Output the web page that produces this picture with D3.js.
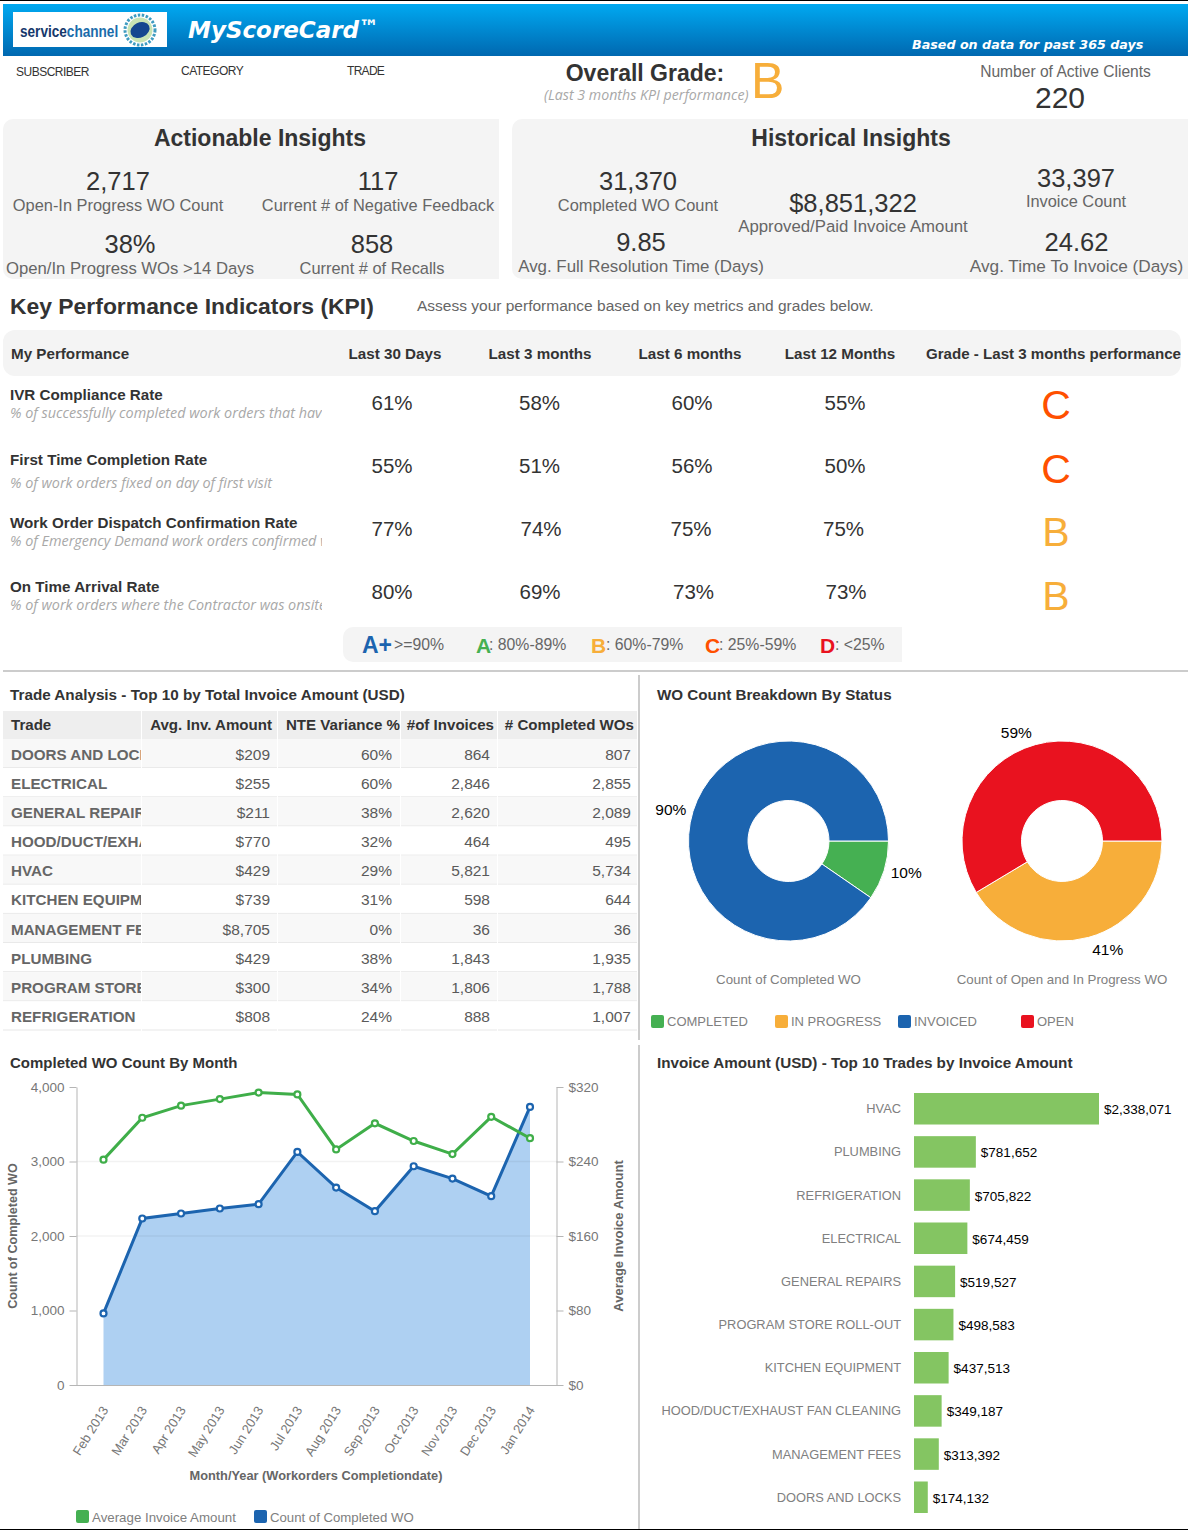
<!DOCTYPE html>
<html lang="en-US">
<head>
<title>MyScoreCard</title>
<meta charset="utf-8">
<script src="https://cdn.jsdelivr.net/npm/d3@7"></script>
<style>
    body { margin: 0; background: #fff; }
    svg { display: block; }
    text { font-family: 'Liberation Sans', Arial, sans-serif; }
</style>
</head>
<body>
<svg id="page" width="1188" height="1530"></svg>
<script>

// KPI table
const kpiNames = ['IVR Compliance Rate', 'First Time Completion Rate', 'Work Order Dispatch Confirmation Rate', 'On Time Arrival Rate'];
const kpiNotes = [
    '% of successfully completed work orders that have',
    '% of work orders fixed on day of first visit',
    '% of Emergency Demand work orders confirmed within',
    '% of work orders where the Contractor was onsite'
];
const kpiPeriods = ['Last 30 Days', 'Last 3 months', 'Last 6 months', 'Last 12 Months'];
const kpiLast30 = [61, 55, 77, 80];
const kpiLast3 = [58, 51, 74, 69];
const kpiLast6 = [60, 56, 75, 73];
const kpiLast12 = [55, 50, 75, 73];
const kpiGrades = ['C', 'C', 'B', 'B'];

// trade table, names cut the way the table column cuts them
const tradeHeaders = ['Trade', 'Avg. Inv. Amount', 'NTE Variance %', '#of Invoices', '# Completed WOs'];
const tradeNames = ['DOORS AND LOCK', 'ELECTRICAL', 'GENERAL REPAIR', 'HOOD/DUCT/EXHA', 'HVAC', 'KITCHEN EQUIPME', 'MANAGEMENT FEE', 'PLUMBING', 'PROGRAM STORE', 'REFRIGERATION'];
const tradeAvgAmount = [209, 255, 211, 770, 429, 739, 8705, 429, 300, 808];
const tradeNteVariance = [60, 60, 38, 32, 29, 31, 0, 38, 34, 24];
const tradeInvoices = [864, 2846, 2620, 464, 5821, 598, 36, 1843, 1806, 888];
const tradeCompleted = [807, 2855, 2089, 495, 5734, 644, 36, 1935, 1788, 1007];

// donuts, percent shares
const completedStatus = ['COMPLETED', 'INVOICED'];
const completedShare = [9.6, 90.4];
const openStatus = ['IN PROGRESS', 'OPEN'];
const openShare = [41.4, 58.6];

// monthly chart
const months = ['Feb 2013', 'Mar 2013', 'Apr 2013', 'May 2013', 'Jun 2013', 'Jul 2013', 'Aug 2013', 'Sep 2013', 'Oct 2013', 'Nov 2013', 'Dec 2013', 'Jan 2014'];
const completedByMonth = [961, 2235, 2302, 2369, 2427, 3128, 2650, 2333, 2936, 2771, 2534, 3732];
const avgInvoiceByMonth = [242, 287, 300, 307, 314, 312, 253, 281, 262, 248, 288, 265];
const countTicks = [0, 1000, 2000, 3000, 4000];
const amountTicks = [0, 80, 160, 240, 320];

// invoice amount bars
const barTrades = ['HVAC', 'PLUMBING', 'REFRIGERATION', 'ELECTRICAL', 'GENERAL REPAIRS', 'PROGRAM STORE ROLL-OUT', 'KITCHEN EQUIPMENT', 'HOOD/DUCT/EXHAUST FAN CLEANING', 'MANAGEMENT FEES', 'DOORS AND LOCKS'];
const barAmounts = [2338071, 781652, 705822, 674459, 519527, 498583, 437513, 349187, 313392, 174132];

const DARK = '#333', GREY = '#666', PALE = '#a8a8a8', SOFT = '#808080';
const BLUE = '#1c64af', GREEN = '#45b052', ORANGE = '#f7ae3a', RED = '#e9121f', CGRADE = '#ff5000';
const gradeColor = { B: ORANGE, C: CGRADE };

let svg = d3.select('#page');
let defs = svg.append('defs');

function label(x, y, str, o) {
    o = o || {};
    let t = (o.parent || svg).append('text')
        .attr('x', x)
        .attr('y', y)
        .attr('font-size', o.size || 14)
        .attr('fill', o.fill || GREY)
        .attr('text-anchor', o.anchor || 'start')
        .text(str);
    if (o.weight) t.attr('font-weight', o.weight);
    if (o.italic) t.attr('font-style', 'italic');
    if (o.family) t.style('font-family', o.family);
    if (o.clip) t.attr('clip-path', `url(#${o.clip})`);
    return t;
}

function clipRect(id, x, y, w, h) {
    defs.append('clipPath').attr('id', id).append('rect')
        .attr('x', x).attr('y', y).attr('width', w).attr('height', h);
}

// rectangle with only the left corners rounded
function leftRounded(x, y, w, h, r, fill) {
    svg.append('path')
        .attr('d', `M${x + r},${y}H${x + w}V${y + h}H${x + r}A${r},${r} 0 0 1 ${x},${y + h - r}V${y + r}A${r},${r} 0 0 1 ${x + r},${y}Z`)
        .attr('fill', fill);
}

function swatch(x, y, size, color) {
    svg.append('rect').attr('x', x).attr('y', y).attr('width', size).attr('height', size)
        .attr('rx', 2).attr('fill', color);
}

// Frame lines
svg.append('rect').attr('width', 1188).attr('height', 1).attr('fill', '#000');
svg.append('rect').attr('y', 1529).attr('width', 1188).attr('height', 1).attr('fill', '#000');

// Banner
let grad = defs.append('linearGradient').attr('id', 'banner').attr('x1', 0).attr('x2', 0).attr('y1', 0).attr('y2', 1);
grad.append('stop').attr('offset', '0%').attr('stop-color', '#00a9f1');
grad.append('stop').attr('offset', '100%').attr('stop-color', '#0068b0');
svg.append('rect').attr('x', 3).attr('y', 4).attr('width', 1185).attr('height', 52).attr('fill', 'url(#banner)');
svg.append('rect').attr('x', 13).attr('y', 12).attr('width', 154).attr('height', 35).attr('fill', '#fff');

// no narrow face installed, so squeeze the wordmark
let logoText = label(0, 0, null, { size: 17, weight: 'bold', fill: '#16386b' })
    .attr('transform', 'translate(20,37) scale(0.8,1)');
logoText.append('tspan').text('service');
logoText.append('tspan').attr('fill', '#1a6cab').text('channel');

let gear = svg.append('g').attr('transform', 'translate(140,30)');
gear.append('circle').attr('r', 15).attr('fill', 'none').attr('stroke', '#3f9cc0').attr('stroke-width', 3).attr('stroke-dasharray', '2.5 1.5');
gear.append('circle').attr('r', 12.5).attr('fill', '#c8e3b4');
gear.append('ellipse').attr('rx', 10).attr('ry', 7.5).attr('transform', 'rotate(-25)').attr('fill', '#15468f');

const VERDANA = "'DejaVu Sans', sans-serif";
label(188, 38, 'MyScoreCard', { size: 23, weight: 'bold', italic: true, fill: '#fff', family: VERDANA });
label(359, 34, '™', { size: 20, weight: 'bold', italic: true, fill: '#fff', family: VERDANA });
label(912, 49, 'Based on data for past 365 days', { size: 12.7, weight: 'bold', italic: true, fill: '#fff', family: VERDANA });

// Filters and overall grade
label(16, 76, 'SUBSCRIBER', { size: 12, fill: DARK }).attr('letter-spacing', -0.5);
label(181, 75, 'CATEGORY', { size: 12, fill: DARK }).attr('letter-spacing', -0.5);
label(347, 75, 'TRADE', { size: 12, fill: DARK }).attr('letter-spacing', -0.7);

const NOTE_FONT = "'Open Sans', sans-serif";
label(645, 81, 'Overall Grade:', { size: 23, weight: 'bold', fill: DARK, anchor: 'middle' });
label(544, 100, '(Last 3 months KPI performance)', { size: 14.2, italic: true, fill: PALE, family: NOTE_FONT });
label(751, 98, 'B', { size: 50, fill: ORANGE });
label(1065.5, 77, 'Number of Active Clients', { size: 15.6, anchor: 'middle' });
label(1060, 108, '220', { size: 30, fill: DARK, anchor: 'middle' });

// Insight panels
leftRounded(3, 119, 496, 160, 10, '#f4f4f4');
leftRounded(512, 119, 676, 160, 10, '#f4f4f4');

function insight(cx, yValue, yText, value, text, textSize) {
    label(cx, yValue, value, { size: 25.5, fill: DARK, anchor: 'middle' });
    label(cx, yText, text, { size: textSize || 16.4, anchor: 'middle' });
}

label(260, 146, 'Actionable Insights', { size: 23, weight: 'bold', fill: DARK, anchor: 'middle' });
insight(118, 190, 211, '2,717', 'Open-In Progress WO Count');
insight(378, 190, 211, '117', 'Current # of Negative Feedback');
insight(130, 253, 274, '38%', 'Open/In Progress WOs >14 Days', 16.7);
insight(372, 253, 274, '858', 'Current # of Recalls');

label(851, 146, 'Historical Insights', { size: 23, weight: 'bold', fill: DARK, anchor: 'middle' });
insight(638, 190, 211, '31,370', 'Completed WO Count');
insight(853, 212, 232, '$8,851,322', 'Approved/Paid Invoice Amount', 16.8);
insight(1076, 187, 207, '33,397', 'Invoice Count');
insight(641, 251, 272, '9.85', 'Avg. Full Resolution Time (Days)', 16.9);
insight(1076.5, 251, 272, '24.62', 'Avg. Time To Invoice (Days)', 17.2);

// KPI section
label(10, 314, 'Key Performance Indicators (KPI)', { size: 22.9, weight: 'bold', fill: DARK });
label(417, 311, 'Assess your performance based on key metrics and grades below.', { size: 15.5 });

svg.append('rect').attr('x', 3).attr('y', 330).attr('width', 1178).attr('height', 46).attr('rx', 12).attr('fill', '#f4f4f4');
label(11, 359, 'My Performance', { size: 15.2, weight: 'bold', fill: DARK });
const periodCenter = [395, 540, 690, 840];
kpiPeriods.forEach((p, i) => label(periodCenter[i], 359, p, { size: 15.2, weight: 'bold', fill: DARK, anchor: 'middle' }));
label(1053.5, 359, 'Grade - Last 3 months performance', { size: 15.1, weight: 'bold', fill: DARK, anchor: 'middle' });

const kpiTitleY = [400, 465, 528, 592];
const kpiNoteY = [418, 488, 546, 610];
const kpiValueY = [409.5, 472.5, 536, 598.5];
const kpiGradeY = [419, 483, 546, 610];
const valueCenter = [392, 540, 692, 845];
// the source cells are not quite centred, small shift per row and column
const valueShift = [[0, -0.5, 0, 0], [0, -0.5, 0, 0], [0, 1, -1, -1.5], [0, 0, 1.5, 1]];
clipRect('kpi-note', 0, 400, 322, 230);
kpiNames.forEach((name, i) => {
    label(10, kpiTitleY[i], name, { size: 15.2, weight: 'bold', fill: DARK });
    label(10, kpiNoteY[i], kpiNotes[i], { size: 14.4, italic: true, fill: PALE, family: NOTE_FONT, clip: 'kpi-note' });
    [kpiLast30, kpiLast3, kpiLast6, kpiLast12].forEach((col, j) => {
        label(valueCenter[j] + valueShift[i][j], kpiValueY[i], col[i] + '%', { size: 20.5, fill: DARK, anchor: 'middle' });
    });
    label(1056, kpiGradeY[i], kpiGrades[i], { size: 41, fill: gradeColor[kpiGrades[i]], anchor: 'middle' });
});

// Grade key
leftRounded(343, 627, 559, 35, 10, '#f4f4f4');
label(362, 653, 'A+', { size: 23, weight: 'bold', fill: BLUE });
label(394, 650, '>=90%', { size: 15.8 });
label(476, 653, 'A', { size: 21, weight: 'bold', fill: GREEN });
label(489, 650, ': 80%-89%', { size: 15.8 });
label(591, 653, 'B', { size: 21, weight: 'bold', fill: ORANGE });
label(606, 650, ': 60%-79%', { size: 15.8 });
label(705, 653, 'C', { size: 21, weight: 'bold', fill: CGRADE });
label(719, 650, ': 25%-59%', { size: 15.8 });
label(820, 653, 'D', { size: 21, weight: 'bold', fill: RED });
label(835, 650, ': <25%', { size: 15.8 });

// Dividers
svg.append('rect').attr('x', 3).attr('y', 670).attr('width', 1185).attr('height', 2).attr('fill', '#ccc');
svg.append('rect').attr('x', 638).attr('y', 675).attr('width', 2).attr('height', 365).attr('fill', '#ccc');
svg.append('rect').attr('x', 638).attr('y', 1045).attr('width', 2).attr('height', 484).attr('fill', '#ccc');

// Trade table
label(10, 700, 'Trade Analysis - Top 10 by Total Invoice Amount (USD)', { size: 15.25, weight: 'bold', fill: DARK });

const colEdges = [3, 141, 277, 400, 497, 637];
const cellRight = [null, 270, 392, 490, 631];
const headRight = [null, 272, 400, 494, 634];
let moneyFmt = d3.format('$,');
let countFmt = d3.format(',');

svg.append('rect').attr('x', 3).attr('y', 711).attr('width', 634).attr('height', 28).attr('fill', '#eee');
clipRect('head-nte', 277, 711, 123, 28);
tradeHeaders.forEach((h, i) => {
    if (i == 0) label(11, 730, h, { size: 15.1, weight: 'bold', fill: DARK });
    else label(headRight[i], 730, h, { size: 15.1, weight: 'bold', fill: DARK, anchor: 'end', clip: i == 2 ? 'head-nte' : null });
});

let rowY = d3.scaleBand().domain(tradeNames).range([739, 1030.5]);
clipRect('trade-name', 3, 739, 138, 292);
let rows = svg.append('g').selectAll('g')
    .data(tradeNames)
    .enter()
    .append('g')
    .attr('transform', d => `translate(0,${rowY(d)})`);
rows.append('rect')
    .attr('x', 3).attr('width', 634).attr('height', rowY.bandwidth())
    .attr('fill', (d, i) => i % 2 == 0 ? '#f8f8f8' : '#fff');
rows.append('rect')
    .attr('x', 3).attr('y', rowY.bandwidth() - 1).attr('width', 634).attr('height', 1)
    .attr('fill', '#e8e8e8');
tradeNames.forEach((name, i) => {
    let y = rowY(name) + 20.6;
    label(11, y, name, { size: 15.2, weight: 'bold', fill: GREY, clip: 'trade-name' });
    label(cellRight[1], y, moneyFmt(tradeAvgAmount[i]), { size: 15.5, fill: '#5a5a5a', anchor: 'end' });
    label(cellRight[2], y, tradeNteVariance[i] + '%', { size: 15.5, fill: '#5a5a5a', anchor: 'end' });
    label(cellRight[3], y, countFmt(tradeInvoices[i]), { size: 15.5, fill: '#5a5a5a', anchor: 'end' });
    label(cellRight[4], y, countFmt(tradeCompleted[i]), { size: 15.5, fill: '#5a5a5a', anchor: 'end' });
});
colEdges.slice(1, 5).forEach(x => {
    svg.append('rect').attr('x', x).attr('y', 711).attr('width', 1).attr('height', 320).attr('fill', '#fff');
});

// Donuts
label(657, 700, 'WO Count Breakdown By Status', { size: 15.2, weight: 'bold', fill: DARK });

const statusColor = { COMPLETED: GREEN, 'IN PROGRESS': ORANGE, INVOICED: BLUE, OPEN: RED };

function donut(cx, cy, names, shares, caption, labelRadius) {
    let g = svg.append('g').attr('transform', `translate(${cx},${cy})`);
    let pie = d3.pie().sort(null).startAngle(Math.PI / 2).endAngle(Math.PI * 2.5);
    let arcs = pie(shares);
    let arc = d3.arc().innerRadius(40.5).outerRadius(100);
    let labelArc = d3.arc().innerRadius(labelRadius).outerRadius(labelRadius);
    g.selectAll('path')
        .data(arcs)
        .enter()
        .append('path')
        .attr('d', arc)
        .attr('fill', (d, i) => statusColor[names[i]])
        .attr('stroke', '#fff')
        .attr('stroke-width', 1);
    g.selectAll('text')
        .data(arcs)
        .enter()
        .append('text')
        .attr('transform', d => `translate(${labelArc.centroid(d)})`)
        .attr('dy', '.35em')
        .attr('text-anchor', d => labelArc.centroid(d)[0] < 0 ? 'end' : 'start')
        .attr('font-size', 15.5)
        .attr('fill', '#000')
        .text(d => d3.format('.0f')(d.data) + '%');
    label(cx, 984, caption, { size: 13.3, fill: SOFT, anchor: 'middle' });
}
donut(788.5, 841, completedStatus, completedShare, 'Count of Completed WO', 107);
donut(1062, 841, openStatus, openShare, 'Count of Open and In Progress WO', 113);

const statusLegendX = [651, 775, 898, 1021];
['COMPLETED', 'IN PROGRESS', 'INVOICED', 'OPEN'].forEach((s, i) => {
    swatch(statusLegendX[i], 1015, 13, statusColor[s]);
    label(statusLegendX[i] + 16, 1026, s, { size: 13, fill: SOFT });
});

// Monthly chart
label(10, 1068, 'Completed WO Count By Month', { size: 15, weight: 'bold', fill: DARK });

let x = d3.scalePoint().domain(months).range([103.5, 530]);
let yCount = d3.scaleLinear().domain([0, 4000]).range([1385, 1087]);
let yAmount = d3.scaleLinear().domain([0, 320]).range([1385, 1087]);

svg.append('path')
    .datum(months)
    .attr('d', d3.area().x(d => x(d)).y0(yCount(0)).y1((d, i) => yCount(completedByMonth[i])))
    .attr('fill', '#aed0f2');

svg.append('g').selectAll('line')
    .data(countTicks.slice(2, 4))
    .enter()
    .append('line')
    .attr('x1', 76).attr('x2', 557)
    .attr('y1', d => yCount(d)).attr('y2', d => yCount(d))
    .attr('stroke', '#000').attr('stroke-opacity', 0.05).attr('stroke-width', 1.5);

function styleAxis(g) {
    g.selectAll('path,line').attr('stroke', '#b5b5b5');
    g.selectAll('text').attr('fill', '#777').attr('font-size', 13.5).style('font-family', "'Liberation Sans', Arial, sans-serif");
}

svg.append('g')
    .attr('transform', 'translate(76.5,0)')
    .call(d3.axisLeft(yCount).tickValues(countTicks).tickFormat(d3.format(',')).tickSize(7).tickSizeOuter(0).tickPadding(5))
    .call(styleAxis);

svg.append('g')
    .attr('transform', 'translate(556.5,0)')
    .call(d3.axisRight(yAmount).tickValues(amountTicks).tickFormat(d => '$' + d).tickSize(7).tickSizeOuter(0).tickPadding(5))
    .call(styleAxis);

let xAxis = svg.append('g')
    .attr('transform', 'translate(0,1385.5)')
    .call(d3.axisBottom(x).tickSize(0).tickSizeOuter(0))
    .call(styleAxis);
xAxis.select('.domain').attr('d', 'M76,0H557');
xAxis.selectAll('text')
    .attr('font-size', 13)
    .attr('text-anchor', 'end')
    .attr('transform', 'translate(1,22) rotate(-58)')
    .attr('dy', '.35em')
    .attr('y', 0);

function drawSeries(values, scale, color) {
    svg.append('path')
        .datum(values)
        .attr('d', d3.line().x((d, i) => x(months[i])).y(d => scale(d)))
        .attr('fill', 'none')
        .attr('stroke', color)
        .attr('stroke-width', 3);
    svg.append('g').selectAll('circle')
        .data(values)
        .enter()
        .append('circle')
        .attr('cx', (d, i) => x(months[i]))
        .attr('cy', d => scale(d))
        .attr('r', 3)
        .attr('fill', '#fff')
        .attr('stroke', color)
        .attr('stroke-width', 2.2);
}
drawSeries(completedByMonth, yCount, BLUE);
drawSeries(avgInvoiceByMonth, yAmount, '#3fae49');

label(0, 0, 'Count of Completed WO', { size: 12.6, weight: 'bold', anchor: 'middle' })
    .attr('transform', 'translate(17,1236) rotate(-90)');
label(0, 0, 'Average Invoice Amount', { size: 13, weight: 'bold', anchor: 'middle' })
    .attr('transform', 'translate(623,1236) rotate(-90)');
label(316, 1480, 'Month/Year (Workorders Completiondate)', { size: 12.8, weight: 'bold', anchor: 'middle' });

swatch(76, 1510, 13, GREEN);
label(92, 1522, 'Average Invoice Amount', { size: 13.3, fill: SOFT });
swatch(254, 1510, 13, BLUE);
label(270, 1522, 'Count of Completed WO', { size: 13.2, fill: SOFT });

// Invoice amount bars
label(657, 1068, 'Invoice Amount (USD) - Top 10 Trades by Invoice Amount', { size: 15.25, weight: 'bold', fill: DARK });

let barX = d3.scaleLinear().domain([0, d3.max(barAmounts)]).range([914, 1099]);
let barY = d3.scaleBand().domain(barTrades).range([1093, 1513]).paddingInner(0.27);

svg.append('g').selectAll('rect')
    .data(barAmounts)
    .enter()
    .append('rect')
    .attr('x', barX(0))
    .attr('y', (d, i) => barY(barTrades[i]))
    .attr('width', d => barX(d) - barX(0))
    .attr('height', barY.bandwidth())
    .attr('fill', '#84c562');

barTrades.forEach((t, i) => {
    let mid = barY(t) + barY.bandwidth() / 2;
    label(901, mid + 4.5, t, { size: 12.85, fill: SOFT, anchor: 'end' });
    label(barX(barAmounts[i]) + 5, mid + 5.5, moneyFmt(barAmounts[i]), { size: 13.5, fill: '#000' });
});

</script>
</body>
</html>
